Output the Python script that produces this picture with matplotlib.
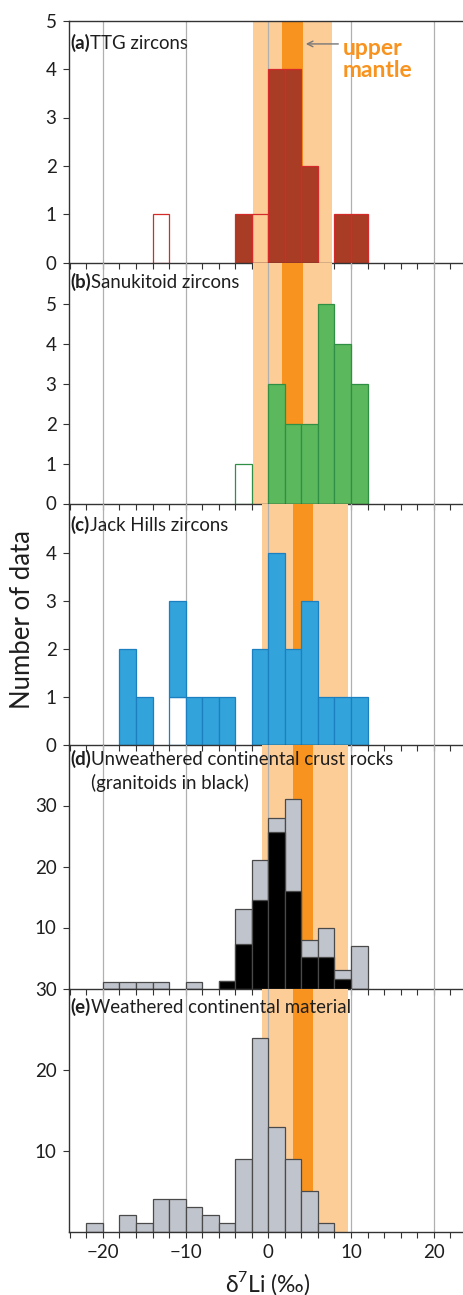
import matplotlib
matplotlib.use("Agg")
import matplotlib.pyplot as plt
from matplotlib.ticker import MultipleLocator

plt.rcParams['font.family'] = ['Lato', 'DejaVu Sans']
plt.rcParams['mathtext.fontset'] = 'custom'
plt.rcParams['mathtext.rm'] = 'Lato'

# ---- data (bin left edges, bins are 2 permil wide) ----
bin_width = 2

# (a) TTG zircons
ttg_left = [-4, 0, 2, 4, 8, 10]
ttg_count = [1, 4, 4, 2, 1, 1]
ttg_open_left = [-14, -2]
ttg_open_count = [1, 1]

# (b) Sanukitoid zircons
sanuk_left = [0, 2, 4, 6, 8, 10]
sanuk_count = [3, 2, 2, 5, 4, 3]
sanuk_open_left = [-4]
sanuk_open_count = [1]

# (c) Jack Hills zircons
jh_left = [-18, -16, -12, -10, -8, -6, -2, 0, 2, 4, 6, 8, 10]
jh_count = [2, 1, 2, 1, 1, 1, 2, 4, 2, 3, 1, 1, 1]
jh_open_left = [-12]
jh_open_count = [1]

# (d) Unweathered continental crust rocks (total, granitoids)
crust_left = [-20, -18, -16, -14, -10, -6, -4, -2, 0, 2, 4, 6, 8, 10]
crust_total = [1, 1, 1, 1, 1, 1.3, 13, 21, 28, 31, 8, 10, 3, 7]
crust_granitoid = [0, 0, 0, 0, 0, 1.3, 7.3, 14.5, 25.7, 16, 5.2, 5.2, 1.6, 0]

# (e) Weathered continental material
weath_left = [-22, -18, -16, -14, -12, -10, -8, -6, -4, -2, 0, 2, 4, 6]
weath_count = [1, 2, 1, 4, 4, 3, 2, 1, 9, 24, 13, 9, 5, 1]

# upper mantle bands (wide, narrow) as drawn in the panels
mantle_ab_wide = (-1.9, 7.7)
mantle_ab_core = (1.7, 4.2)
mantle_cde_wide = (-0.8, 9.6)
mantle_cde_core = (3.0, 5.4)

# ---- colours ----
band_light = '#fdcd98'
band_dark = '#f7931e'
red_fill, red_edge = '#a83c24', '#d42a2a'
green_fill, green_edge = '#5cb85c', '#2f8f45'
blue_fill, blue_edge = '#33a3db', '#1b7fc0'
gray_fill, gray_edge = '#c0c4cc', '#4a4a4a'
txt = '#1e1e1e'

fig = plt.figure(figsize=(4.63, 12.95), dpi=100)

H = 1295.0
W = 463.0
left = 69 / W
width = 1 - left
# panel tops / bottoms in pixels
rows = [(20.7, 262.7), (262.7, 503.5), (503.5, 744.5), (744.5, 988.5), (988.5, 1231.5)]
axes = []
for top, bot in rows:
    axes.append(fig.add_axes([left, 1 - bot / H, width, (bot - top) / H]))
ax_a, ax_b, ax_c, ax_d, ax_e = axes


def style(ax, ylim, yticks, band_wide, band_core, yticklabels=None, bottom=False, top=False):
    ax.set_xlim(-24.1, 23.54)
    ax.set_ylim(*ylim)
    ax.axvspan(*band_wide, color=band_light, lw=0, zorder=0.2)
    ax.axvspan(*band_core, color=band_dark, lw=0, zorder=0.3)
    ax.xaxis.set_major_locator(MultipleLocator(10))
    ax.xaxis.set_minor_locator(MultipleLocator(2))
    ax.set_axisbelow(True)
    ax.grid(axis='x', which='major', color='#b0b0b0', lw=0.9)
    ax.set_yticks(yticks)
    if yticklabels is not None:
        ax.set_yticklabels(yticklabels)
    ax.tick_params(axis='x', which='both', direction='out', length=4, width=0.8,
                   color='#333333', labelbottom=bottom, labelsize=13.5,
                   labelcolor=txt, pad=5)
    ax.tick_params(axis='y', direction='out', length=4, width=0.8, color='#333333',
                   labelsize=13.5, labelcolor=txt, pad=5)
    ax.spines['right'].set_visible(False)
    ax.spines['top'].set_visible(top)
    for s in ('left', 'bottom', 'top'):
        ax.spines[s].set_color('#333333')
        ax.spines[s].set_linewidth(1.0)
    ax.patch.set_alpha(0)


def title(ax, tag, text, y):
    t = ax.text(0.004, y, tag, transform=ax.transAxes, fontsize=13.4, fontweight='bold',
                va='center', ha='left', color=txt, zorder=5)
    a = ax.annotate(text, xy=(1, 0), xycoords=t, va='bottom', ha='left',
                    fontsize=13.4, color=txt, zorder=5)
    return t, a


# (a)
style(ax_a, (0, 5), range(0, 6), mantle_ab_wide, mantle_ab_core, top=True)
ax_a.bar(ttg_left, ttg_count, width=bin_width, align='edge', color=red_fill,
         edgecolor=red_edge, lw=0.9, zorder=1)
ax_a.bar(ttg_open_left, ttg_open_count, width=bin_width, align='edge', fill=False,
         edgecolor=red_edge, lw=0.9, zorder=1)
title(ax_a, '(a)', 'TTG zircons', 0.909)
ax_a.annotate('', xy=(4.2, 4.52), xytext=(8.8, 4.52),
              arrowprops=dict(arrowstyle='->', color='#777777', lw=1.0))
ax_a.text(9.0, 4.2, 'upper\nmantle', color=band_dark, fontsize=16.5, fontweight='bold',
          ha='left', va='center', linespacing=1.05)

# (b)
style(ax_b, (0, 6.05), range(0, 6), mantle_ab_wide, mantle_ab_core)
ax_b.bar(sanuk_left, sanuk_count, width=bin_width, align='edge', color=green_fill,
         edgecolor=green_edge, lw=0.9, zorder=1)
ax_b.bar(sanuk_open_left, sanuk_open_count, width=bin_width, align='edge', fill=False,
         edgecolor=green_edge, lw=0.9, zorder=1)
title(ax_b, '(b)', 'Sanukitoid zircons', 0.921)

# (c)
style(ax_c, (0, 5.03), range(0, 5), mantle_cde_wide, mantle_cde_core)
jh_open = dict(zip(jh_open_left, jh_open_count))
jh_bottom = [jh_open.get(x, 0) for x in jh_left]
ax_c.bar(jh_open_left, jh_open_count, width=bin_width, align='edge', color='white',
         edgecolor=blue_edge, lw=0.9, zorder=1)
ax_c.bar(jh_left, jh_count, bottom=jh_bottom, width=bin_width, align='edge',
         color=blue_fill, edgecolor=blue_edge, lw=0.9, zorder=1)
title(ax_c, '(c)', 'Jack Hills zircons', 0.911)

# (d)
style(ax_d, (0, 40), [0, 10, 20, 30], mantle_cde_wide, mantle_cde_core,
      yticklabels=['30', '10', '20', '30'])
ax_d.bar(crust_left, crust_total, width=bin_width, align='edge', color=gray_fill,
         edgecolor=gray_edge, lw=0.9, zorder=1)
ax_d.bar(crust_left, crust_granitoid, width=bin_width, align='edge', color='black',
         edgecolor=gray_edge, lw=0.9, zorder=1.1)
td, _ = title(ax_d, '(d)', 'Unweathered continental crust rocks', 0.939)
ax_d.annotate('(granitoids in black)', xy=(1, 0), xycoords=td, xytext=(0, -23.4),
              textcoords='offset pixels', va='bottom', ha='left', fontsize=13.4,
              color=txt, zorder=5)

# (e)
style(ax_e, (0, 30.1), [10, 20], mantle_cde_wide, mantle_cde_core, bottom=True)
ax_e.bar(weath_left, weath_count, width=bin_width, align='edge', color=gray_fill,
         edgecolor=gray_edge, lw=0.9, zorder=1)
title(ax_e, '(e)', 'Weathered continental material', 0.924)

fig.text(23 / W, 1 - 620 / H, 'Number of data', rotation=90, ha='center', va='center',
         fontsize=18.5, color=txt)
fig.text(268 / W, 1 - 1283 / H, r'δ$^{\mathregular{7}}$Li (‰)', ha='center', va='center',
         fontsize=16.5, color=txt)

fig.savefig('out.png', dpi=100)
